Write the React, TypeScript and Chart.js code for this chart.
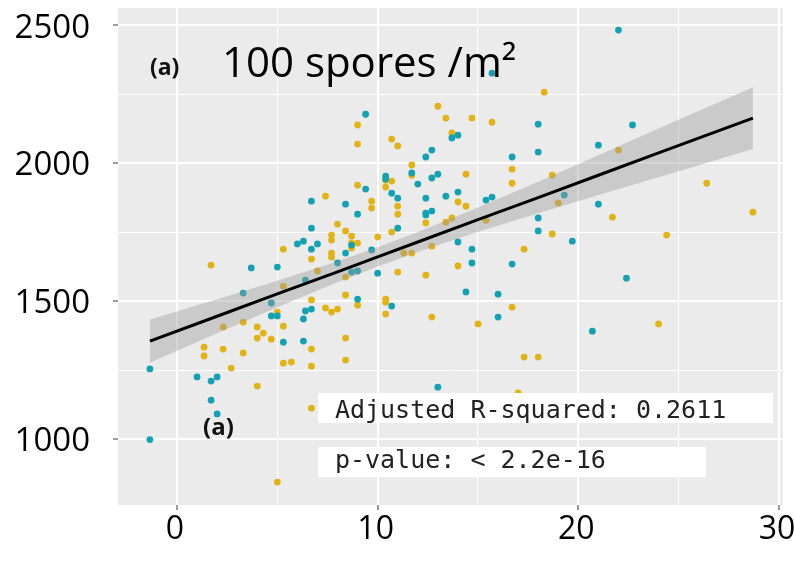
import React, { useEffect, useRef } from "react";
import { Chart, registerables } from "chart.js";

Chart.register(...registerables);

// ---- axis / tick data ----
const X_MIN = -2.94;
const X_MAX = 30.2;
const Y_MIN = 761;
const Y_MAX = 2562;
const xTicks = [0, 5, 10, 15, 20, 25, 30];
const yTicks = [1000, 1250, 1500, 1750, 2000, 2250, 2500];
const xMajor = [0, 10, 20, 30];
const yMajor = [1000, 1500, 2000, 2500];

// ---- series: teal points ----
const tealX = [6.7, 8.4, 6.7, 6.3, 6.0, 7.0, 6.7, 8.4, 8.0, 3.7, 5.0, 9.4, 18.0, 14.0, 13.7, 12.7, 18.0, 12.4, 16.7, 11.7,
  10.4, 13.0, 12.7, 10.4, 12.0, 9.4, 10.7, 14.0, 11.0, 12.4, 13.4, 15.4, 15.7, 9.0, 12.4, 12.7, 12.4, 18.0, 11.0, 19.3,
  18.0, 8.7, 9.7, 14.0, 14.7, 14.7, 16.7, 8.7, 9.0, 10.0, 22.0, 22.7, 21.0, 21.0, 19.7, 22.4, 3.3, 4.7, 4.7, 5.0,
  6.4, 6.7, 6.3, 5.3, 6.3, -1.35, 1.0, 1.7, 2.0, 1.7, 2.0, -1.35, 9.0, 10.7, 14.4, 16.0, 16.0, 13.0, 20.7, 15.7, 6.4];
const tealY = [1862, 1851, 1764, 1717, 1707, 1707, 1688, 1674, 1638, 1620, 1623, 2177, 2141, 2101, 2091, 2047, 2040, 2022, 2022, 1964,
  1953, 1960, 1946, 1942, 1924, 1906, 1891, 1895, 1873, 1873, 1880, 1866, 1877, 1815, 1819, 1826, 1812, 1801, 1764, 1884,
  1754, 1703, 1685, 1714, 1688, 1638, 1634, 1605, 1609, 1601, 2482, 2138, 2065, 1851, 1717, 1583, 1529, 1493, 1446, 1446,
  1464, 1471, 1435, 1351, 1355, 1254, 1225, 1210, 1225, 1141, 1091, 998, 1507, 1482, 1533, 1525, 1442, 1188, 1391, 2326, 1576];

// ---- series: gold points ----
const goldX = [7.4, 8.0, 8.4, 7.7, 7.7, 5.3, 7.7, 7.7, 6.7, 1.7, 7.0, 18.3, 13.0, 13.4, 14.7, 15.7, 9.0, 13.7, 10.7, 9.0,
  11.0, 11.7, 16.7, 11.7, 10.4, 10.7, 14.4, 18.7, 16.7, 9.0, 10.4, 9.7, 14.0, 14.4, 11.0, 9.7, 11.0, 13.7, 13.4, 12.4,
  15.4, 19.0, 18.7, 10.7, 8.7, 10.0, 8.7, 9.0, 8.7, 11.3, 11.7, 12.7, 17.3, 14.0, 11.0, 12.4, 8.4, 22.0, 26.4, 21.7,
  28.7, 24.4, 5.3, 6.7, 8.4, 5.0, 7.4, 7.7, 8.0, 3.3, 2.3, 4.0, 5.3, 4.3, 4.0, 4.7, 8.4, 1.35, 1.35, 2.3,
  3.3, 6.7, 5.3, 5.7, 8.4, 2.7, 6.7, 4.0, 6.7, 5.0, 9.0, 10.4, 10.4, 10.4, 12.7, 16.7, 15.0, 17.3, 18.0, 17.0, 24.0];
const goldY = [1880, 1779, 1754, 1739, 1721, 1688, 1674, 1659, 1652, 1630, 1609, 2257, 2206, 2163, 2163, 2148, 2138, 2109, 2087, 2069,
  2062, 1993, 1978, 1956, 1938, 1935, 1960, 1956, 1927, 1920, 1913, 1862, 1859, 1844, 1844, 1837, 1815, 1801, 1786, 1783,
  1793, 1855, 1743, 1750, 1735, 1732, 1710, 1710, 1692, 1674, 1674, 1699, 1688, 1627, 1605, 1594, 1587, 2047, 1927, 1804,
  1822, 1739, 1554, 1504, 1522, 1460, 1475, 1460, 1471, 1424, 1406, 1406, 1409, 1384, 1366, 1362, 1366, 1333, 1301, 1326,
  1312, 1326, 1275, 1279, 1286, 1257, 1264, 1192, 1112, 844, 1485, 1507, 1496, 1453, 1442, 1478, 1417, 1297, 1297, 1167, 1417];

// ---- regression line and confidence band ----
const fitX = [-1.35, 2, 5, 8, 10, 12, 15, 18, 21, 24, 28.7];
const fitY = [1355, 1445, 1526, 1606, 1660, 1714, 1795, 1875, 1956, 2037, 2163];
const bandUpper = [1433, 1507, 1574, 1644, 1695, 1750, 1839, 1932, 2028, 2125, 2275];
const bandLower = [1277, 1383, 1478, 1568, 1625, 1678, 1751, 1818, 1884, 1949, 2051];

// ---- texts ----
const titleTag = "(a)";
const titleText = "100 spores /m²";
const panelTag = "(a)";
const r2Text = "Adjusted R-squared: 0.2611";
const pText = "p-value: < 2.2e-16";

const TEAL = "#14A2B2";
const GOLD = "#E2B314";
const PANEL_BG = "#EBEBEB";

const toPts = (xs: number[], ys: number[]) => xs.map((x, i) => ({ x, y: ys[i] }));

const annotPlugin = {
  id: "annot",
  beforeDraw(chart: any) {
    const { ctx, chartArea } = chart;
    ctx.save();
    ctx.fillStyle = PANEL_BG;
    ctx.fillRect(chartArea.left, chartArea.top, chartArea.right - chartArea.left, chartArea.bottom - chartArea.top);
    ctx.restore();
  },
  afterDatasetsDraw(chart: any) {
    const { ctx } = chart;
    const xs = chart.scales.x;
    const ys = chart.scales.y;
    const px = (v: number) => xs.getPixelForValue(v);
    const py = (v: number) => ys.getPixelForValue(v);
    ctx.save();
    // stat boxes
    ctx.fillStyle = "#FFFFFF";
    ctx.fillRect(px(7.03), py(1167), px(29.7) - px(7.03), py(1058) - py(1167));
    ctx.fillRect(px(7.03), py(971), px(26.36) - px(7.03), py(862) - py(971));
    ctx.fillStyle = "#222";
    ctx.font = "25px 'DejaVu Sans Mono', monospace";
    ctx.textBaseline = "alphabetic";
    ctx.textAlign = "left";
    ctx.fillText(r2Text, px(7.87), py(1076));
    ctx.fillText(pText, px(7.87), py(895));
    // titles
    ctx.fillStyle = "#111";
    ctx.font = "bold 23px 'Open Sans', sans-serif";
    ctx.fillText(titleTag, px(-1.35), py(2320));
    ctx.fillStyle = "#000";
    ctx.font = "42px 'Open Sans', sans-serif";
    ctx.fillText(titleText, px(2.24), py(2312));
    ctx.fillStyle = "#111";
    ctx.font = "bold 24px 'Open Sans', sans-serif";
    ctx.fillText(panelTag, px(1.3), py(1016));
    ctx.restore();
  },
};

export default function App() {
  const ref = useRef<HTMLCanvasElement | null>(null);
  useEffect(() => {
    if (!ref.current) return;
    const chart = new Chart(ref.current, {
      type: "scatter",
      data: {
        datasets: [
          {
            label: "fit",
            data: toPts(fitX, fitY),
            showLine: true,
            borderColor: "#000",
            borderWidth: 3,
            pointRadius: 0,
            fill: false,
            order: 0,
          } as any,
          {
            label: "upper",
            data: toPts(fitX, bandUpper),
            showLine: true,
            borderWidth: 0,
            borderColor: "rgba(0,0,0,0)",
            pointRadius: 0,
            backgroundColor: "rgba(153,153,153,0.4)",
            fill: "+1",
            order: 1,
          } as any,
          {
            label: "lower",
            data: toPts(fitX, bandLower),
            showLine: true,
            borderWidth: 0,
            borderColor: "rgba(0,0,0,0)",
            pointRadius: 0,
            fill: false,
            order: 2,
          } as any,
          {
            label: "teal",
            data: toPts(tealX, tealY),
            pointRadius: 3.4,
            pointBackgroundColor: TEAL,
            pointBorderWidth: 0,
            order: 3,
          } as any,
          {
            label: "gold",
            data: toPts(goldX, goldY),
            pointRadius: 3.4,
            pointBackgroundColor: GOLD,
            pointBorderWidth: 0,
            order: 4,
          } as any,
        ],
      },
      options: {
        animation: false,
        responsive: false,
        layout: { padding: { top: 8, right: 11, left: 0, bottom: 0 } },
        plugins: { legend: { display: false }, tooltip: { enabled: false } },
        scales: {
          x: {
            type: "linear",
            min: X_MIN,
            max: X_MAX,
            afterBuildTicks: (s: any) => {
              s.ticks = xTicks.map((v) => ({ value: v }));
            },
            afterFit: (s: any) => {
              s.height = 56;
              s.paddingLeft = 0;
              s.paddingRight = 0;
            },
            border: { display: false },
            grid: {
              color: "#FFFFFF",
              lineWidth: (c: any) => (c.tick && xMajor.includes(c.tick.value) ? 2 : 1),
              drawTicks: true,
              tickLength: 5,
              tickWidth: 1.3,
              tickColor: (c: any) => (c.tick && xMajor.includes(c.tick.value) ? "#666" : "rgba(0,0,0,0)"),
            },
            ticks: {
              autoSkip: false,
              maxRotation: 0,
              padding: 1,
              labelOffset: -2,
              color: "#000",
              font: { family: "'Open Sans', sans-serif", size: 32 },
              callback: (v: any) => (xMajor.includes(v) ? String(v) : ""),
            },
          },
          y: {
            type: "linear",
            min: Y_MIN,
            max: Y_MAX,
            afterBuildTicks: (s: any) => {
              s.ticks = yTicks.map((v) => ({ value: v }));
            },
            afterFit: (s: any) => {
              s.width = 118;
              s.paddingTop = 0;
              s.paddingBottom = 0;
            },
            border: { display: false },
            grid: {
              color: "#FFFFFF",
              lineWidth: (c: any) => (c.tick && yMajor.includes(c.tick.value) ? 2 : 1),
              drawTicks: true,
              tickLength: 5,
              tickWidth: 1.3,
              tickColor: (c: any) => (c.tick && yMajor.includes(c.tick.value) ? "#666" : "rgba(0,0,0,0)"),
            },
            ticks: {
              autoSkip: false,
              padding: 23,
              labelOffset: 3,
              color: "#000",
              font: { family: "'Open Sans', sans-serif", size: 33 },
              callback: (v: any) => (yMajor.includes(v) ? String(v) : ""),
            },
          },
        },
      },
      plugins: [annotPlugin],
    } as any);
    return () => chart.destroy();
  }, []);
  return (
    <div style={{ position: "fixed", left: 0, top: 0, width: 794, height: 561, background: "#fff" }}>
      <canvas ref={ref} width={794} height={561} style={{ width: 794, height: 561 }} />
    </div>
  );
}
